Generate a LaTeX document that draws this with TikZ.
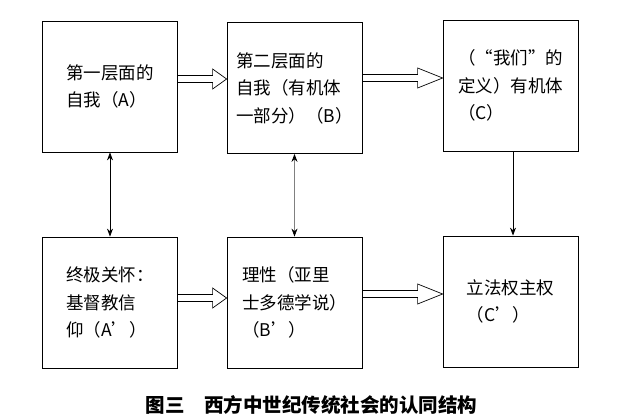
\documentclass[tikz,border=0pt]{standalone}
\usepackage{fontspec}
\newfontfamily\cjk{Noto Sans CJK SC}
\usetikzlibrary{arrows.meta}

\begin{document}
\begin{tikzpicture}[
    x=1pt, y=-1pt,
    every node/.style={draw, line width=0.8pt, minimum width=135pt, minimum height=131pt,
      align=left, font=\cjk\fontsize{17.5}{27.5}\selectfont},
    hollow/.style={line width=0.7pt, line join=miter},
    link/.style={line width=0.8pt,
      {Stealth[length=8pt, width=6pt, color=black]}-{Stealth[length=8pt, width=6pt, color=black]}}]

    \useasboundingbox (0,0) rectangle (628,417);

    % Upper row
    \node (A) at (110, 86.5) {第一层面的\\自我（A）};
    \node (B) at (294.5, 88) {第二层面的\\自我（有机体\\一部分）（B）};
    \node (C) at (510.5, 85.5) {（“我们”的\\定义）有机体\\（C）};

    % Lower row
    \node (Ap) at (110, 302.5) {终极关怀：\\基督教信\\仰（A’）};
    \node (Bp) at (294.5, 302.5) {理性（亚里\\士多德学说）\\（B’）};
    \node (Cp) at (510.5, 301.5) {立法权主权\\（C’）};

    % Hollow arrows
    \foreach \a/\b/\s/\l in {A/B/7.5/14, B/C/10/25, Ap/Bp/4.5/14, Bp/Cp/8.5/25} {
      \coordinate (s) at ([yshift=\s pt]\a.east);
      \coordinate (e) at ([yshift=\s pt]\a.east -| \b.west);
      \draw[hollow] ([yshift=3.5pt]s) -- ([yshift=3.5pt, xshift=-\l pt]e)
        -- ([yshift=10pt, xshift=-\l pt]e) -- (e)
        -- ([yshift=-10pt, xshift=-\l pt]e) -- ([yshift=-3.5pt, xshift=-\l pt]e)
        -- ([yshift=-3.5pt]s);
    }

    % Vertical links
    \draw[link] (A) -- (Ap);
    \draw[link, gray] (B) -- (Bp);
    \draw[line width=0.8pt, -{Stealth[length=8pt, width=6pt]}]
      ([xshift=2.5pt]C.south) -- ([xshift=2.5pt]Cp.north);

    % Caption
    \node[draw=none, minimum width=0pt, minimum height=0pt,
      font=\cjk\bfseries\fontsize{19.5}{24}\selectfont] (title) at (311.5, 405)
      {图三　西方中世纪传统社会的认同结构};
  \end{tikzpicture}
\end{document}
